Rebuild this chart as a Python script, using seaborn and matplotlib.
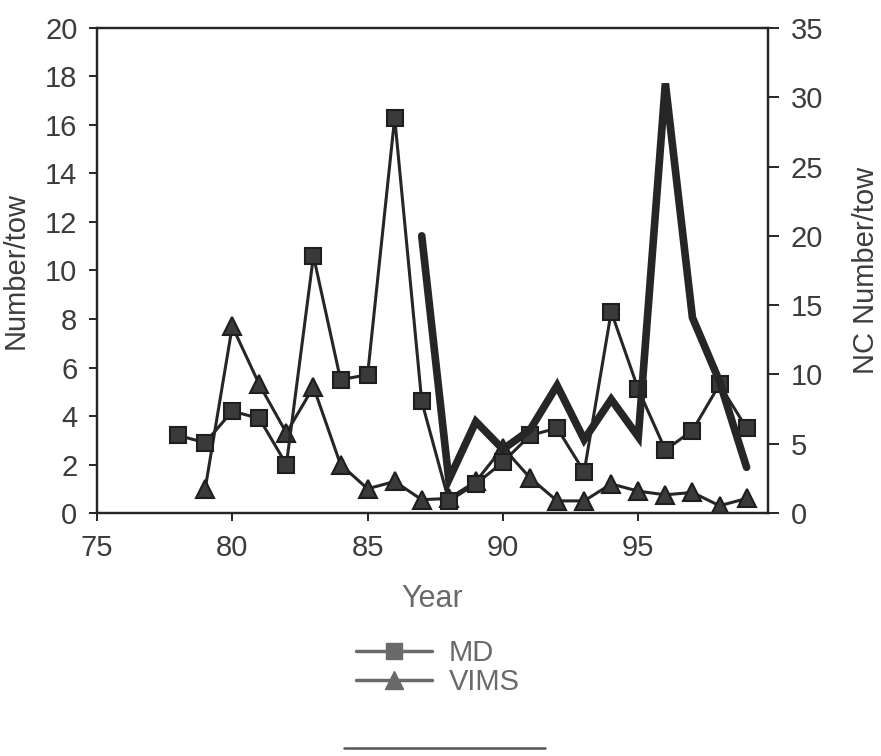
import numpy as np
import pandas as pd
import seaborn as sns
import matplotlib.pyplot as plt
from matplotlib.lines import Line2D

# values
years = list(range(78, 100))
md = [3.2, 2.9, 4.2, 3.9, 2.0, 10.6, 5.5, 5.7, 16.3, 4.6, 0.5, 1.2,
      2.1, 3.2, 3.5, 1.7, 8.3, 5.1, 2.6, 3.4, 5.3, 3.5]

vims_years = list(range(79, 100))
vims = [1.0, 7.7, 5.3, 3.3, 5.2, 2.0, 1.0, 1.3, 0.55, 0.6, 1.3,
        2.7, 1.45, 0.5, 0.5, 1.2, 0.9, 0.75, 0.85, 0.3, 0.6]

nc_years = list(range(87, 100))
nc = [20.0, 2.4, 6.6, 4.6, 6.0, 9.2, 5.3, 8.2, 5.5, 31.0, 14.1, 9.5, 3.3]

sns.set_style("white")
plt.rcParams['font.family'] = ['Liberation Sans', 'DejaVu Sans']

ink = '#262626'
text_col = '#3c3c3c'
legend_col = '#6a6a6a'

fig = plt.figure(figsize=(8.81, 7.56), dpi=100)
ax = fig.add_axes([0.110, 0.3214, 0.762, 0.6416])
ax2 = ax.twinx()

df_md = pd.DataFrame({'Year': years, 'Value': md})
df_vims = pd.DataFrame({'Year': vims_years, 'Value': vims})
df_nc = pd.DataFrame({'Year': nc_years, 'Value': nc})

sns.lineplot(data=df_nc, x='Year', y='Value', ax=ax2, color=ink, lw=5.5,
             solid_joinstyle='miter', legend=False)
sns.lineplot(data=df_vims, x='Year', y='Value', ax=ax, color=ink, lw=2.2,
             marker='^', markersize=13, markerfacecolor='#3a3a3a',
             markeredgecolor='#1e1e1e', markeredgewidth=1.5, legend=False)
sns.lineplot(data=df_md, x='Year', y='Value', ax=ax, color=ink, lw=2.2,
             marker='s', markersize=12, markerfacecolor='#3a3a3a',
             markeredgecolor='#1e1e1e', markeredgewidth=1.5, legend=False)

ax.set_xlim(75, 99.8)
ax.set_ylim(0, 20)
ax2.set_ylim(0, 35)
ax.set_xticks([75, 80, 85, 90, 95])
ax.set_yticks(np.arange(0, 21, 2))
ax2.set_yticks(np.arange(0, 36, 5))

for a in (ax, ax2):
    for s in a.spines.values():
        s.set_color(ink)
        s.set_linewidth(1.6)

ax.tick_params(axis='both', direction='out', length=6, width=1.4,
               color=ink, labelsize=21, labelcolor=text_col, pad=8)
ax.tick_params(axis='y', left=True)
ax.tick_params(axis='x', bottom=True, pad=9)
ax2.tick_params(axis='y', direction='out', length=8, width=1.4, color=ink,
                labelsize=21, labelcolor=text_col, pad=8, right=True)

ax.set_xlabel('Year', fontsize=22, color=legend_col, labelpad=16)
ax.set_ylabel('Number/tow', fontsize=21, color=text_col)
ax.yaxis.set_label_coords(-0.100, 0.5)
ax2.set_ylabel('NC Number/tow', fontsize=21, color=text_col)
ax2.yaxis.set_label_coords(1.125, 0.5)

handles = [
    Line2D([], [], color=legend_col, lw=2.5, marker='s', markersize=12,
           markerfacecolor=legend_col, markeredgecolor=legend_col),
    Line2D([], [], color=legend_col, lw=2.5, marker='^', markersize=13,
           markerfacecolor=legend_col, markeredgecolor=legend_col),
]
leg = fig.legend(handles, ['MD', 'VIMS'], loc='center', bbox_to_anchor=(0.497, 0.117),
                 frameon=False, fontsize=21, handlelength=2.6, handletextpad=0.6,
                 labelspacing=0.05)
for t in leg.get_texts():
    t.set_color(legend_col)

# rule under the legend
fig.add_artist(Line2D([0.39, 0.619], [0.011, 0.011], color='#555555', lw=1.8,
                      transform=fig.transFigure))

fig.savefig('out.png', dpi=100)
